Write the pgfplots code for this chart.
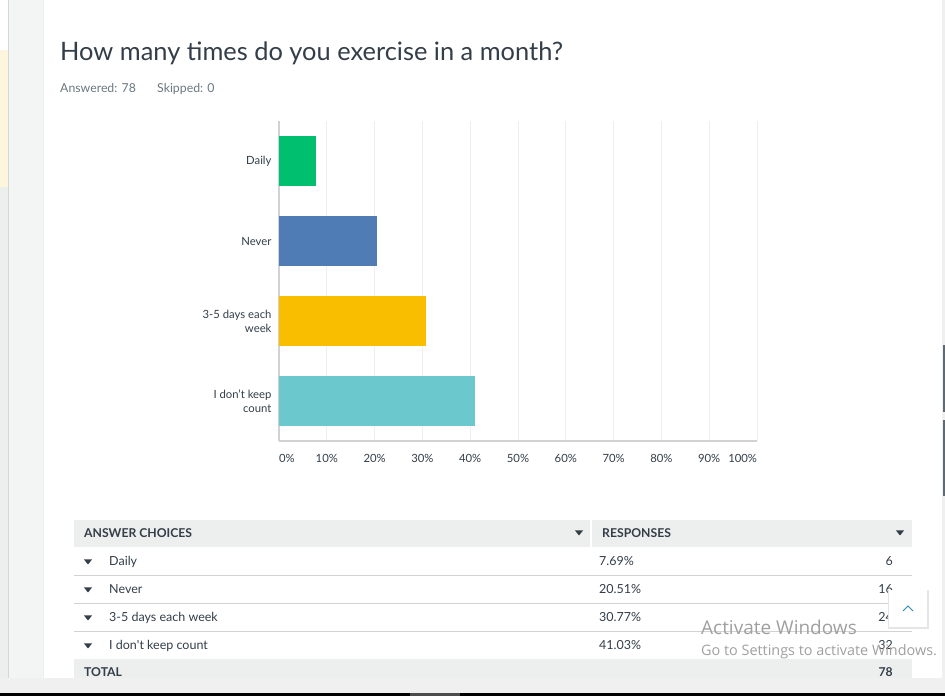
\documentclass[border=0pt]{standalone}
\usepackage{fontspec}
\setmainfont{Lato}
\newfontfamily\winfont{Open Sans}
\usepackage{pgfplots}
\pgfplotsset{compat=1.18}

\definecolor{smgreen}{HTML}{00BF6F}
\definecolor{smblue}{HTML}{507CB6}
\definecolor{smyellow}{HTML}{F9BE00}
\definecolor{smteal}{HTML}{6BC8CD}
\definecolor{txt}{HTML}{333E48}
\definecolor{subtxt}{HTML}{6B787F}
\definecolor{gridc}{HTML}{EDEEEE}
\definecolor{axisc}{HTML}{D0D2D3}
\definecolor{hdr}{HTML}{EDEEEE}
\definecolor{panel}{HTML}{F3F4F4}
\definecolor{note}{HTML}{FEF6DC}
\definecolor{sep}{HTML}{D6D6D6}
\definecolor{band}{HTML}{F0F0F0}
\definecolor{thumb}{HTML}{5F6B73}
\definecolor{wm}{HTML}{A0A0A0}
\definecolor{chev}{HTML}{2A8AB8}

% small down triangle, centre x, y (pixel coords, y down)
\newcommand{\tri}[2]{\fill[txt] (#1-4,#2-2.5) -- (#1+4,#2-2.5) -- (#1,#2+2.5) -- cycle;}

\begin{document}
\begin{tikzpicture}
\useasboundingbox (0,0) rectangle (945pt,696pt);

% page background
\begin{scope}[x=1pt,y=-1pt,yshift=696pt]
  \fill[white] (0,0) rectangle (945,696);
  \fill[note] (0,50) rectangle (8.3,187);
  \fill[hdr] (0,187) rectangle (8.3,678);
  \fill[panel] (9,0) rectangle (43.5,678);
  \draw[sep, line width=0.8pt] (8.6,0) -- (8.6,678);
  \draw[gridc, line width=0.8pt] (43.8,0) -- (43.8,678);
  \fill[band] (942,0) rectangle (945,678);
  \fill[thumb] (943,345) rectangle (945,412);
  \fill[thumb] (943,420) rectangle (945,496);

  \node[anchor=base west, inner sep=0, text=txt, font=\fontsize{25.4}{30}\selectfont]
    at (60,61) {How many times do you exercise in a month?};
  \node[anchor=base west, inner sep=0, text=subtxt, font=\fontsize{12.3}{14}\selectfont]
    at (60,93) {Answered: 78};
  \node[anchor=base west, inner sep=0, text=subtxt, font=\fontsize{12.3}{14}\selectfont]
    at (157,93) {Skipped: 0};
\end{scope}

\begin{axis}[
  at={(279pt,255pt)}, anchor=south west,
  scale only axis, width=478pt, height=320pt,
  xbar, bar width=50pt, bar shift=0pt,
  xmin=0, xmax=100, ymin=-0.5, ymax=3.5, y dir=reverse,
  axis lines*=left,
  axis line style={color=axisc, line width=1.2pt},
  major tick length=0pt,
  xmajorgrids, major grid style={color=gridc, line width=1pt},
  xtick={0,10,...,100},
  xticklabels={\makebox[0pt][l]{0\%},10\%,20\%,30\%,40\%,50\%,60\%,70\%,80\%,90\%,\makebox[0pt][r]{100\%}},
  xticklabel style={text=txt, font=\fontsize{11.3}{13}\selectfont, yshift=-10pt},
  ytick={0,1,2,3},
  yticklabels={Daily,Never,{3-5 days each\\week},{I don’t keep\\count}},
  yticklabel style={text=txt, font=\fontsize{11.3}{14}\selectfont, align=right, xshift=-4pt},
]
\addplot[draw=none, fill=smgreen] coordinates {(7.69,0)};
\addplot[draw=none, fill=smblue] coordinates {(20.51,1)};
\addplot[draw=none, fill=smyellow] coordinates {(30.77,2)};
\addplot[draw=none, fill=smteal] coordinates {(41.03,3)};
\end{axis}

% summary table and screen overlays
\begin{scope}[x=1pt,y=-1pt,yshift=696pt,
    cell/.style={anchor=base west, inner sep=0, text=txt, font=\fontsize{12.5}{15}\selectfont},
    num/.style={anchor=base east, inner sep=0, text=txt, font=\fontsize{12.5}{15}\selectfont}]
  \fill[hdr] (74,520) rectangle (590,547);
  \fill[hdr] (592,520) rectangle (912,547);
  \foreach \y in {575,603,631} \draw[axisc, line width=0.8pt] (74,\y) -- (912,\y);
  \fill[hdr] (74,659) rectangle (912,678);

  \node[cell, font=\bfseries\fontsize{12.2}{15}\selectfont] at (84,538) {ANSWER CHOICES};
  \node[cell, font=\bfseries\fontsize{12.2}{15}\selectfont] at (602,538) {RESPONSES};
  \tri{579}{533} \tri{900}{533}

  \tri{88}{562} \node[cell] at (109,566) {Daily};
  \node[cell] at (599,566) {7.69\%}; \node[num] at (893,566) {6};
  \tri{88}{590} \node[cell] at (109,594) {Never};
  \node[cell] at (599,594) {20.51\%}; \node[num] at (893,594) {16};
  \tri{88}{618} \node[cell] at (109,622) {3-5 days each week};
  \node[cell] at (599,622) {30.77\%}; \node[num] at (893,622) {24};
  \tri{88}{646} \node[cell] at (109,650) {I don\textquotesingle t keep count};
  \node[cell] at (599,650) {41.03\%}; \node[num] at (893,650) {32};
  \node[cell, font=\bfseries\fontsize{12.2}{15}\selectfont] at (84,677) {TOTAL};
  \node[num, font=\bfseries\fontsize{12.2}{15}\selectfont] at (893,677) {78};

  % scroll-to-top button
  \fill[black!10] (888,590) rectangle (928.5,629);
  \fill[white] (889,590) rectangle (927,627.5);
  \draw[chev, line width=0.9pt] (903,611) -- (908,606) -- (913,611);

  % screen bottom
  \fill[band] (0,678) rectangle (945,693);
  \fill[black] (0,693) rectangle (945,696);
  \fill[black!70] (410,693) rectangle (460,696);

  % watermark
  \node[anchor=base west, inner sep=0, text=wm, font=\winfont\fontsize{19}{21}\selectfont]
    at (701,635) {Activate Windows};
  \node[anchor=base west, inner sep=0, text=wm, font=\winfont\fontsize{14.4}{16}\selectfont]
    at (701,656) {Go to Settings to activate Windows.};
\end{scope}
\end{tikzpicture}
\end{document}
